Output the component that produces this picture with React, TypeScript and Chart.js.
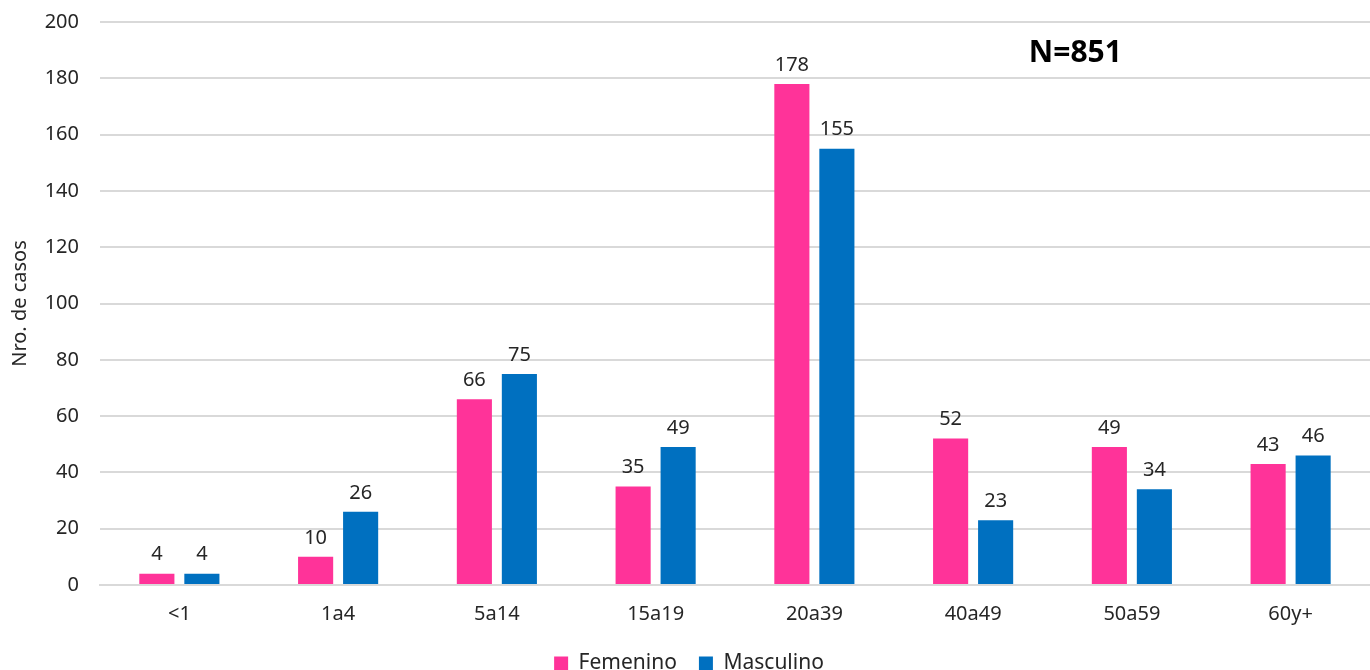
import React, { useEffect, useRef } from "react";
import { Chart, registerables } from "chart.js";

Chart.register(...registerables);

const categories = ["<1", "1a4", "5a14", "15a19", "20a39", "40a49", "50a59", "60y+"];
const femenino = [4, 10, 66, 35, 178, 52, 49, 43];
const masculino = [4, 26, 75, 49, 155, 23, 34, 46];
const yTicks = [0, 20, 40, 60, 80, 100, 120, 140, 160, 180, 200];
const totalLabel = "N=851";

const FONT = "'Noto Sans', 'Open Sans', sans-serif";
const TXT = "#262626";
const FS = 20;

const labelsPlugin = {
  id: "valueLabels",
  afterDatasetsDraw(chart: any) {
    const ctx = chart.ctx;
    ctx.save();
    ctx.font = `${FS}px ${FONT}`;
    ctx.fillStyle = TXT;
    ctx.textAlign = "center";
    ctx.textBaseline = "bottom";
    chart.data.datasets.forEach((ds: any, di: number) => {
      const meta = chart.getDatasetMeta(di);
      meta.data.forEach((el: any, i: number) => {
        ctx.fillText(String(ds.data[i]), el.x, el.y - 9);
      });
    });
    const ca = chart.chartArea;
    ctx.font = `bold 30px ${FONT}`;
    ctx.fillStyle = "#000000";
    ctx.textBaseline = "middle";
    ctx.fillText(totalLabel, ca.left + (ca.right - ca.left) * 0.768, chart.scales.y.getPixelForValue(189));
    ctx.restore();
  },
};

export default function App() {
  const ref = useRef<HTMLCanvasElement>(null);
  useEffect(() => {
    document.body.style.margin = "0";
    const chart = new Chart(ref.current!, {
      type: "bar",
      data: {
        labels: categories,
        datasets: [
          { label: "Femenino", data: femenino, backgroundColor: "#FF3399", categoryPercentage: 0.567, barPercentage: 0.78 },
          { label: "Masculino", data: masculino, backgroundColor: "#0070C0", categoryPercentage: 0.567, barPercentage: 0.78 },
        ],
      },
      options: {
        animation: false,
        responsive: false,
        maintainAspectRatio: false,
        layout: { padding: { top: 22, right: 0, left: 8, bottom: -14 } },
        plugins: {
          tooltip: { enabled: false },
          legend: {
            position: "bottom",
            labels: {
              font: { family: FONT, size: 21 },
              color: TXT,
              boxWidth: 14,
              boxHeight: 14,
              padding: 22,
            },
          },
        },
        scales: {
          x: {
            grid: { display: false, drawTicks: false },
            border: { color: "#d9d9d9", width: 2 },
            ticks: { font: { family: FONT, size: FS }, color: TXT, padding: 17 },
            afterFit(scale: any) {
              scale.height = 46;
            },
          },
          y: {
            min: 0,
            max: 200,
            afterBuildTicks(scale: any) {
              scale.ticks = yTicks.map((v) => ({ value: v }));
            },
            grid: { color: "#d9d9d9", lineWidth: 2, drawTicks: false },
            border: { display: false },
            ticks: { font: { family: FONT, size: FS }, color: TXT, padding: 21 },
            title: {
              display: true,
              text: "Nro. de casos",
              font: { family: FONT, size: 20 },
              color: TXT,
              padding: 0,
            },
            afterFit(scale: any) {
              scale.width = 92;
              scale.paddingTop = 0;
              scale.paddingBottom = 0;
            },
          },
        },
      },
      plugins: [labelsPlugin],
    });
    return () => chart.destroy();
  }, []);
  return (
    <div style={{ position: "absolute", left: 0, top: 0, width: 1370, height: 670 }}>
      <canvas ref={ref} width={1370} height={670} />
    </div>
  );
}
